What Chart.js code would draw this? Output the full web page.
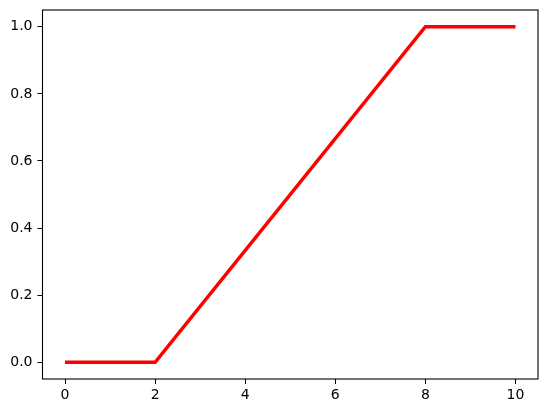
<!DOCTYPE html>
<html>
<head>
<meta charset="utf-8">
<script src="https://cdn.jsdelivr.net/npm/chart.js@4"></script>
<style>
  html, body { margin: 0; padding: 0; background: #fff; }
  #wrap { width: 547px; height: 413px; }
</style>
</head>
<body>
<div id="wrap"><canvas id="chart"></canvas></div>
<script>
// data
const xValues = [0, 2, 8, 10];
const yValues = [0, 0, 1, 1];
const xTicks = [0, 2, 4, 6, 8, 10];
const yTicks = [0, 0.2, 0.4, 0.6, 0.8, 1.0];

const tickFont = { family: 'DejaVu Sans', size: 14 };

// matplotlib-like box round the plot area
const frameBox = {
    id: 'frameBox',
    afterDraw(chart) {
        const { ctx, chartArea: a } = chart;
        ctx.save();
        ctx.strokeStyle = '#000';
        ctx.lineWidth = 1.1;
        ctx.strokeRect(a.left, a.top, a.right - a.left, a.bottom - a.top);
        ctx.restore();
    }
};

new Chart(document.getElementById('chart'), {
    type: 'line',
    data: {
        datasets: [{
            data: xValues.map((x, i) => ({ x, y: yValues[i] })),
            borderColor: '#ff0000',
            borderWidth: 3.5,
            pointRadius: 0,
            tension: 0,
            fill: false
        }]
    },
    options: {
        responsive: true,
        maintainAspectRatio: false,
        animation: false,
        layout: { padding: { top: 10, right: 9, left: 0, bottom: 0 } },
        plugins: { legend: { display: false }, tooltip: { enabled: false } },
        scales: {
            x: {
                type: 'linear',
                min: -0.5,
                max: 10.5,
                afterBuildTicks: s => { s.ticks = xTicks.map(v => ({ value: v })); },
                afterFit: s => { s.height = 34; s.paddingLeft = 0; s.paddingRight = 0; },
                grid: { drawOnChartArea: false, color: '#000', tickLength: 5, tickWidth: 1 },
                border: { display: false },
                ticks: { color: '#000', font: tickFont, padding: 3, maxRotation: 0, callback: v => String(v) }
            },
            y: {
                type: 'linear',
                min: -0.05,
                max: 1.05,
                afterBuildTicks: s => { s.ticks = yTicks.map(v => ({ value: v })); },
                afterFit: s => { s.width = 42.5; s.paddingTop = 0; s.paddingBottom = 0; },
                grid: { drawOnChartArea: false, color: '#000', tickLength: 5, tickWidth: 1 },
                border: { display: false },
                ticks: { color: '#000', font: tickFont, padding: 5, callback: v => v.toFixed(1) }
            }
        }
    },
    plugins: [frameBox]
});
</script>
</body>
</html>
